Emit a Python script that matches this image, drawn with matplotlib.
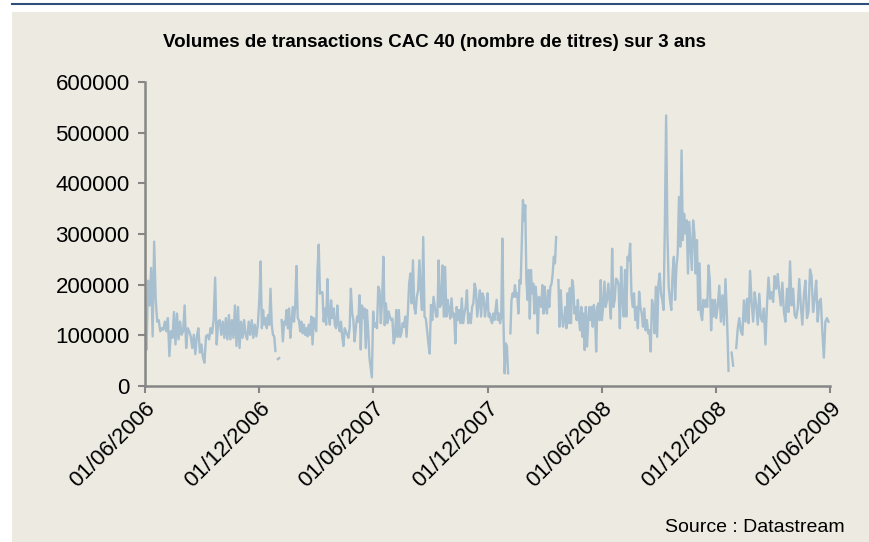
import numpy as np
import pandas as pd
import matplotlib
matplotlib.use("Agg")
from matplotlib import pyplot as plt
import matplotlib.dates as mdates
from matplotlib.patches import Rectangle
from matplotlib.lines import Line2D

nan = np.nan

# volumes en milliers de titres, un bloc par semestre
s1 = [127, 72, 208, 159, 233, 98, 285, 172, 127, 130, 108, 114, 111, 127, 108, 134, 59, 108,
      95, 146, 82, 143, 92, 127, 101, 108, 159, 75, 114, 108, 98, 75, 101, 63, 98, 114, 66, 82,
      56, 46, 98, 101, 92, 114, 104, 130, 214, 82, 127, 130, 101, 127, 95, 134, 92, 140, 92, 130,
      95, 159, 79, 156, 75, 127, 95, 130, 101, 92, 127, 101, 130, 95, 121, 98, 121]
s2 = [172, 246, 114, 150, 121, 134, 114, 140, 121, 192, 121, 101, 98, 69, nan, 53, 55, nan,
      130, 88, 127, 121, 150, 114, 153, 95, 127, 156, 127, 159, 237, 134, 130, 108, 127, 104,
      121, 101, 114, 98, 121, 101, 137, 82, 134, 121, 108, 230, 279, 182, 185, 185, 127, 153,
      121, 211, 140, 121, 169, 134, 153, 121, 114, 159, 121, 108, 127, 98, 79, 114, 108, 101,
      95, 114, 192, 146, 130, 88, 114, 137, 127, 179, 72, 159, 134, 153, 75, 150, 108, 56, 37, 17]
s3 = [147, 117, 124, 114, 196, 189, 124, 170, 255, 120, 163, 124, 147, 137, 130, 133, 84, 97,
      150, 97, 150, 97, 104, 124, 117, 137, 97, 143, 202, 222, 163, 248, 156, 143, 176, 189,
      248, 189, 150, 294, 137, 133, 110, 84, 64, 160, 130, 176, 156, 137, 137, 248, 156, 163,
      238, 137, 235, 137, 170, 150, 133, 173, 137, 143, 84, 156, 130, 150, 124, 173, 124, 143,
      156, 189, 124, 143, 124, 156, 163, 202, 189, 137, 163, 189, 137, 183, 176, 137, 156]
s4 = [183, 137, 143, 130, 124, 143, 130, 150, 170, 130, 143, 124, 137, 291, 124, 25, 84, 78,
      25, nan, 104, 170, 183, 176, 199, 176, 183, 143, 209, 202, 288, 367, 327, 357, 209, 170,
      229, 133, 229, 183, 202, 143, 196, 170, 104, 176, 170, 156, 199, 143, 196, 156, 143, 189,
      156, 196, 202, 222, 255, 242, 294, nan, 209, 117, 189, 143, 117, 130, 156, 114, 183, 124,
      193, 124, 209, 196, 143, 156, 130, 170, 130, 110, 156, 97, 143, 71, 156, 78, 124, 156,
      130, 156, 117, 160, 143, 68, 156, 163, 130, 209]
s5 = [130, 156, 206, 156, 170, 202, 170, 133, 271, 156, 170, 212, 209, 199, 114, 235, 170, 137,
      229, 137, 255, 248, 281, 183, 156, 183, 130, 156, 114, 186, 156, 143, 117, 153, 110, 130,
      104, 110, 68, 170, 156, 104, 196, 97, 202, 222, 183, 170, 150, 317, 534, 301, 196, 170,
      150, 222, 255, 170, 235, 261, 373, 275, 465, 288, 340, 301, 327, 222, 324, 275, 229, 327,
      301, 222, 288, 150, 242, 143, 130, 170, 156, 170, 156, 238, 209, 110, 170, 137, 170]
s6 = [134, 159, 198, 127, 179, 121, 211, 134, 30, nan, 66, 40, nan, 75, 114, 134, 108, 101,
      169, 127, 172, 124, 227, 166, 127, 185, 159, 121, 182, 134, 127, 153, 82, 159, 214, 172,
      185, 166, 217, 192, 221, 185, 159, 204, 146, 127, 192, 146, 246, 159, 192, 140, 134, 153,
      211, 159, 121, 179, 208, 134, 146, 230, 217, 146, 172, 208, 127, 166, 172, 108, 56, 127,
      134, 127]

semestres = ["2006-06-01", "2006-12-01", "2007-06-01", "2007-12-01",
             "2008-06-01", "2008-12-01", "2009-06-01"]
blocs = [s1, s2, s3, s4, s5, s6]

dates = []
volumes = []
for i, bloc in enumerate(blocs):
    d = pd.date_range(semestres[i], semestres[i + 1], periods=len(bloc) + 1)[:-1]
    dates.extend(d)
    volumes.extend(np.array(bloc, dtype=float) * 1000)
dates = pd.DatetimeIndex(dates)
volumes = np.array(volumes)

# Mise en page
plt.rcParams["font.family"] = ["Liberation Sans", "DejaVu Sans"]
fig = plt.figure(figsize=(8.70, 5.42), dpi=100)
fig.patch.set_facecolor("white")
fig.add_artist(Rectangle((12 / 870, 0), 1, (542 - 12) / 542, transform=fig.transFigure,
                         facecolor="#EDEBE1", edgecolor="none", zorder=0))
fig.add_artist(Line2D([12 / 870, 1], [1 - 4 / 542, 1 - 4 / 542], transform=fig.transFigure,
                      color="#2E4F7A", linewidth=1.5))

ax = fig.add_axes([145 / 870, 1 - 386 / 542, (830 - 145) / 870, (386 - 82) / 542])
ax.set_facecolor("none")
ax.plot(dates, volumes, color="#A7BFCF", linewidth=1.7)

ax.set_ylim(0, 600000)
ax.set_yticks(np.arange(0, 600001, 100000))
ax.set_xlim(pd.Timestamp(semestres[0]), pd.Timestamp(semestres[-1]))
ax.set_xticks([pd.Timestamp(s) for s in semestres])
ax.xaxis.set_major_formatter(mdates.DateFormatter("%d/%m/%Y"))

for side in ["top", "right"]:
    ax.spines[side].set_visible(False)
for side in ["left", "bottom"]:
    ax.spines[side].set_color("#868686")
    ax.spines[side].set_linewidth(1.8)
ax.tick_params(axis="both", colors="#868686", width=1.5, length=5, labelcolor="black",
               labelsize=16)
ax.tick_params(axis="y", pad=6)
plt.setp(ax.get_xticklabels(), rotation=45, ha="right", rotation_mode="anchor")

fig.text(0.5, 1 - 42 / 542, "Volumes de transactions CAC 40 (nombre de titres) sur 3 ans",
         ha="center", va="center", fontsize=13.5, fontweight="bold")
fig.text(845 / 870, 1 - 528 / 542, "Source : Datastream", ha="right", va="center", fontsize=14)

fig.savefig("out.png", dpi=100)
